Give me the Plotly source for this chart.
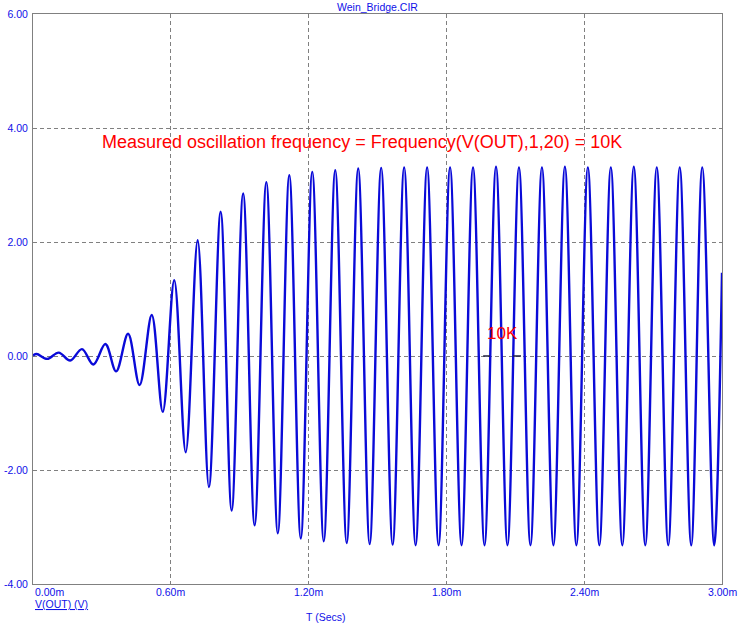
import plotly.graph_objects as go

# extremes of V(OUT), time in ms, volts
ext_t = [0.000, 0.016, 0.062, 0.112, 0.162, 0.213, 0.263, 0.315, 0.362, 0.414, 0.464,
         0.517, 0.565, 0.615, 0.665, 0.717, 0.766, 0.817, 0.865, 0.915, 0.965,
         1.016, 1.066, 1.116, 1.166, 1.216, 1.266, 1.316, 1.366, 1.416, 1.466,
         1.516, 1.566, 1.616, 1.666, 1.716, 1.766, 1.816, 1.866, 1.916, 1.966,
         2.016, 2.066, 2.116, 2.166, 2.216, 2.266, 2.316, 2.366, 2.416, 2.466,
         2.516, 2.566, 2.616, 2.666, 2.716, 2.766, 2.816, 2.866, 2.914, 2.966, 3.000]
ext_v = [0.01, 0.035, -0.05, 0.06, -0.08, 0.12, -0.15, 0.21, -0.27, 0.39, -0.51,
         0.72, -0.98, 1.33, -1.69, 2.03, -2.30, 2.53, -2.71, 2.85, -2.97,
         3.05, -3.11, 3.17, -3.20, 3.23, -3.25, 3.26, -3.28, 3.29, -3.30,
         3.30, -3.31, 3.31, -3.32, 3.31, -3.32, 3.31, -3.32, 3.31, -3.32,
         3.32, -3.32, 3.31, -3.32, 3.31, -3.32, 3.32, -3.32, 3.31, -3.32,
         3.31, -3.32, 3.32, -3.32, 3.31, -3.32, 3.31, -3.32, 3.31, -3.32, 1.46]

# frequency measurement markers
mark_t = [1.96, 1.99, None, 2.09, 2.125]
mark_v = [0, 0, None, 0, 0]

x_ticks = [0.0, 0.6, 1.2, 1.8, 2.4, 3.0]
x_labels = ["0.00m", "0.60m", "1.20m", "1.80m", "2.40m", "3.00m"]
y_ticks = [-4, -2, 0, 2, 4, 6]
y_labels = ["-4.00", "-2.00", "0.00", "2.00", "4.00", "6.00"]

blue = '#1010e8'
font = "Arial, Liberation Sans, sans-serif"

fig = go.Figure()
fig.add_trace(go.Scatter(x=ext_t, y=ext_v, mode='lines',
                         line=dict(color='#0a0ad8', width=2.4, shape='spline', smoothing=1)))
fig.add_trace(go.Scatter(x=mark_t, y=mark_v, mode='lines',
                         line=dict(color='#202040', width=1.5)))

fig.add_annotation(x=0.29, y=3.76, xanchor='left', yanchor='middle', showarrow=False,
                   text="Measured oscillation frequency = Frequency(V(OUT),1,20) = 10K",
                   font=dict(family=font, size=18, color='#ff0000'))
fig.add_annotation(x=2.043, y=0.40, xanchor='center', yanchor='middle', showarrow=False,
                   text="10K", font=dict(family=font, size=17, color='#ff0000'))

for i, (v, s) in enumerate(zip(x_ticks, x_labels)):
    fig.add_annotation(x=v, y=0, xref='x', yref='paper', yshift=-8,
                       xanchor='left' if i == 0 else 'center', yanchor='middle',
                       showarrow=False, text=s, font=dict(family=font, size=10.5, color=blue))

fig.add_annotation(x=0, y=0, xref='paper', yref='paper', yshift=-20, xanchor='left',
                   yanchor='middle', showarrow=False, text="<u>V(OUT) (V)</u>",
                   font=dict(family=font, size=10.5, color=blue))
fig.add_annotation(x=0.424, y=0, xref='paper', yref='paper', yshift=-33, xanchor='center',
                   yanchor='middle', showarrow=False, text="T (Secs)",
                   font=dict(family=font, size=10.5, color=blue))

fig.update_xaxes(range=[0, 3], tickvals=x_ticks, showticklabels=False, automargin=False,
                 showgrid=True, gridcolor='#808080', gridwidth=1, griddash='4px,3px',
                 showline=True, linecolor='#808080', linewidth=1, mirror=True,
                 zeroline=False)
fig.update_yaxes(range=[-4, 6], tickvals=y_ticks, ticktext=y_labels, automargin=False,
                 tickfont=dict(family=font, size=10.5, color=blue), ticklabelstandoff=2,
                 showgrid=True, gridcolor='#808080', gridwidth=1, griddash='4px,3px',
                 showline=True, linecolor='#808080', linewidth=1, mirror=True,
                 zeroline=False)
fig.update_layout(
    width=745, height=631,
    title=dict(text="Wein_Bridge.CIR", x=0.5, xref='paper', y=1 - 7 / 631, yref='container',
               xanchor='center', yanchor='middle', font=dict(family=font, size=10.5, color=blue)),
    showlegend=False,
    plot_bgcolor='white', paper_bgcolor='white',
    margin={"l": 33, "r": 23, "t": 14, "b": 47, "autoexpand": False})
# drop the default page margin so the figure sits at the window corner
fig.write_html("out.html", config={"displayModeBar": False},
               post_script="document.body.style.margin = '0';")
